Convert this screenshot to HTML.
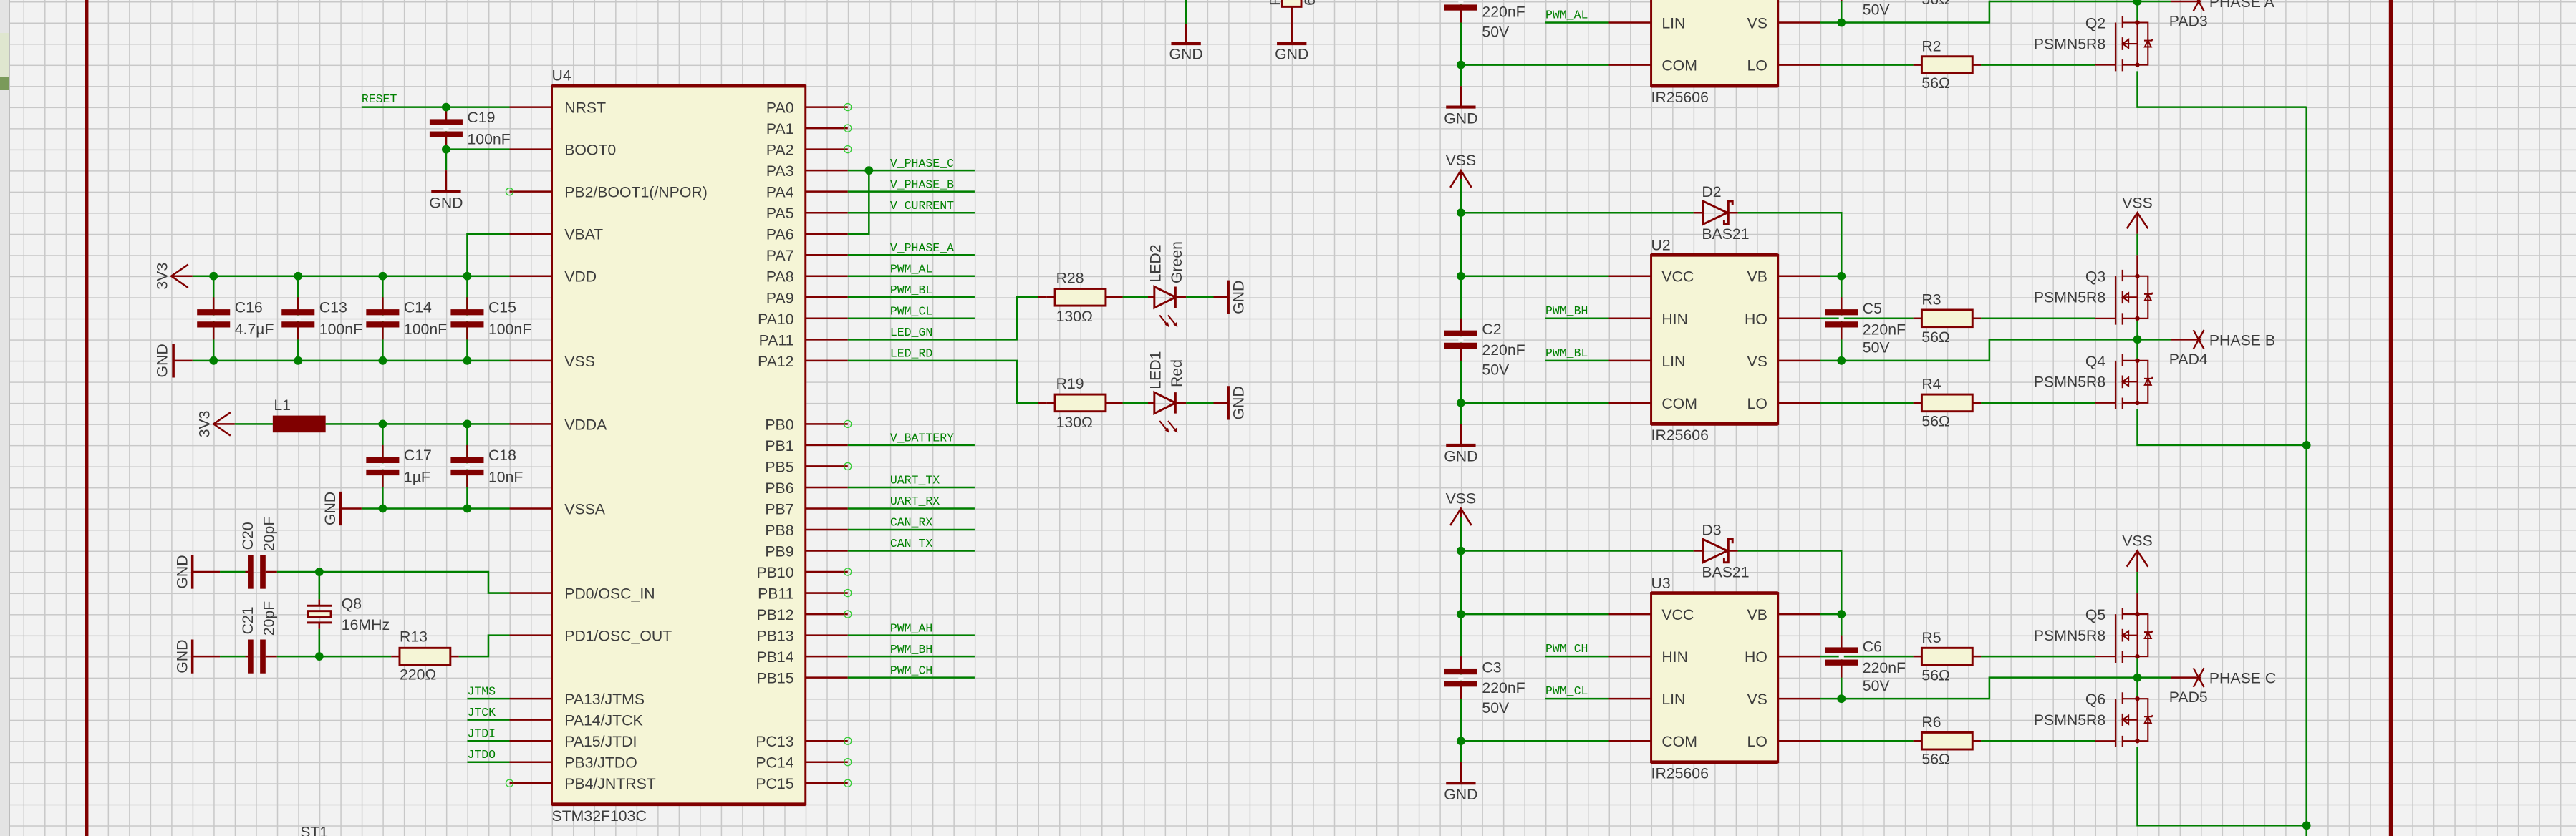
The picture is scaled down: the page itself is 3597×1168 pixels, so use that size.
<!DOCTYPE html>
<html><head><meta charset="utf-8">
<style>
html,body{margin:0;padding:0;background:#f2f2f2;}
svg{display:block}
.w{stroke:#008000;stroke-width:.085;fill:none}
.r{stroke:#800000;stroke-width:.085;fill:none}
.t{font-family:"Liberation Sans",sans-serif;font-size:.72px;fill:#3c3c3c}
.n{font-family:"Liberation Mono",monospace;font-size:.56px;fill:#008000}
.e{text-anchor:end}
.m{text-anchor:middle}
</style></head>
<body>
<svg width="3597" height="1168" viewBox="0 0 3597 1168" xmlns="http://www.w3.org/2000/svg" xmlns:xlink="http://www.w3.org/1999/xlink">
<defs>
<pattern id="gp" x="3" y="2" width="29.52" height="29.52" patternUnits="userSpaceOnUse">
<path d="M0 0H29.52M0 0V29.52" stroke="#c8c8c8" stroke-width="3" fill="none"/>
</pattern>
<g id="cap">
<rect x="-.12" y="-.14" width=".24" height=".28" fill="#f2f2f2"/>
<path class="r" d="M0 -1V-.42M0 .42V1"/>
<rect x="-.78" y="-.43" width="1.56" height=".28" fill="#800000"/>
<rect x="-.78" y=".15" width="1.56" height=".28" fill="#800000"/>
</g>
<g id="res">
<path class="r" d="M-1.6 0H-1.2M1.2 0H1.6"/>
<rect x="-1.2" y="-.4" width="2.4" height=".8" fill="#f5f5d6" stroke="#800000" stroke-width=".1"/>
</g>
<g id="fet" fill="none" stroke="#800000" stroke-width=".07">
<path d="M0 0V2"/>
<path d="M-.7 -.3V.25M-.7 .7V1.3M-.7 1.75V2.3" stroke-width=".08"/>
<path d="M-1.03 0V2.3" stroke-width=".08"/>
<path d="M-2 2H-1.03M-.7 0H.5V2H-.7M-.7 1H0"/>
<path d="M-.7 1L-.42 .8V1.2Z"/>
<path d="M.35 1.15H.65L.5 .85ZM.32 .85H.68L.72 .78"/>
<circle cx="0" cy="0" r=".11" fill="#800000" stroke="none"/>
<circle cx="0" cy="2" r=".11" fill="#800000" stroke="none"/>
</g>
<g id="sec">
<!-- left rail -->
<path class="r" d="M68.5 8.8L69 8L69.5 8.8M69 8V8.4M69 20V21"/>
<path class="w" d="M69 8.4V20"/>
<path d="M68.3 21H69.7" stroke="#800000" stroke-width=".14"/>
<use xlink:href="#cap" x="69" y="16"/>
<circle cx="69" cy="10" r=".2" fill="#008000"/>
<circle cx="69" cy="13" r=".2" fill="#008000"/>
<circle cx="69" cy="19" r=".2" fill="#008000"/>
<!-- diode -->
<path class="w" d="M69 10H80M82.1 10H87V17"/>
<path class="r" d="M80 10H80.45M81.65 10H82.1"/>
<path d="M80.45 9.45V10.55L81.6 10Z" fill="none" stroke="#800000" stroke-width=".1"/>
<path d="M81.85 9.65V9.45H81.65V10.55H81.45V10.35" fill="none" stroke="#800000" stroke-width=".1"/>
<!-- IC -->
<path class="w" d="M69 13H76M73 15H76M73 17H76M69 19H76"/>
<path class="r" d="M76 13H78M76 15H78M76 17H78M76 19H78M84 13H86M84 15H86M84 17H86M84 19H86"/>
<rect x="78" y="12" width="6" height="8" fill="#f5f5d6" stroke="#800000" stroke-width=".1"/>
<path d="M78 12H84" stroke="#800000" stroke-width=".16"/>
<path d="M78 20H84" stroke="#800000" stroke-width=".16"/>
<path class="w" d="M86 13H87M86 15H90.4M93.6 15H99M86 17H94V16H102.6M86 19H90.4M93.6 19H99M101 15V17"/>
<use xlink:href="#cap" x="87" y="15"/>
<circle cx="87" cy="13" r=".2" fill="#008000"/>
<circle cx="87" cy="17" r=".2" fill="#008000"/>
<use xlink:href="#res" x="92" y="15"/>
<use xlink:href="#res" x="92" y="19"/>
<!-- VSS for high fet -->
<path class="r" d="M100.5 10.75L101 10L101.5 10.75M101 10V11M101 12V13"/>
<path class="w" d="M101 11V12"/>
<use xlink:href="#fet" x="101" y="13"/>
<use xlink:href="#fet" x="101" y="17"/>
<circle cx="101" cy="16" r=".2" fill="#008000"/>
<path class="r" d="M102.6 16H104"/>
<path d="M103.65 15.55L104.15 16.45M104.15 15.55L103.65 16.45" stroke="#800000" stroke-width=".08"/>
</g>
</defs>
<rect width="3597" height="1168" fill="#f2f2f2"/>
<rect width="3597" height="1168" fill="url(#gp)"/>
<rect x="0" y="0" width="12" height="1168" fill="#e4e4e4"/>
<rect x="0" y="46" width="12" height="80" fill="#dfe6cf"/>
<rect x="0" y="108" width="12" height="18" fill="#7a9a5a"/>
<line x1="13" y1="0" x2="13" y2="1168" stroke="#bdbdbd" stroke-width="2"/>

<g transform="translate(3,2) scale(29.52)">
<!-- frame -->
<path d="M4 -1V41" stroke="#800000" stroke-width=".16"/>
<path d="M113 -1V41" stroke="#800000" stroke-width=".2"/>

<!-- U4 -->
<path class="r" d="M24 5H26M24 7H26M24 9H26M24 11H26M24 13H26M24 17H26M24 20H26M24 24H26M24 28H26M24 30H26M24 33H26M24 34H26M24 35H26M24 36H26M24 37H26"/>
<path class="r" d="M38 5H40M38 6H40M38 7H40M38 8H40M38 9H40M38 10H40M38 11H40M38 12H40M38 13H40M38 14H40M38 15H40M38 16H40M38 17H40M38 20H40M38 21H40M38 22H40M38 23H40M38 24H40M38 25H40M38 26H40M38 27H40M38 28H40M38 29H40M38 30H40M38 31H40M38 32H40M38 35H40M38 36H40M38 37H40"/>
<rect x="26" y="4" width="12" height="34" fill="#f5f5d6" stroke="#800000" stroke-width=".1"/>
<path d="M26 4H38" stroke="#800000" stroke-width=".16"/>
<path d="M26 38H38" stroke="#800000" stroke-width=".16"/>
<text class="t" x="26" y="3.75">U4</text>
<text class="t" x="26" y="38.78">STM32F103C</text>
<g class="t">
<text x="26.6" y="5.27">NRST</text><text x="26.6" y="7.27">BOOT0</text><text x="26.6" y="9.27">PB2/BOOT1(/NPOR)</text>
<text x="26.6" y="11.27">VBAT</text><text x="26.6" y="13.27">VDD</text><text x="26.6" y="17.27">VSS</text>
<text x="26.6" y="20.27">VDDA</text><text x="26.6" y="24.27">VSSA</text><text x="26.6" y="28.27">PD0/OSC_IN</text>
<text x="26.6" y="30.27">PD1/OSC_OUT</text><text x="26.6" y="33.27">PA13/JTMS</text><text x="26.6" y="34.27">PA14/JTCK</text>
<text x="26.6" y="35.27">PA15/JTDI</text><text x="26.6" y="36.27">PB3/JTDO</text><text x="26.6" y="37.27">PB4/JNTRST</text>
</g>
<g class="t e">
<text x="37.45" y="5.27">PA0</text><text x="37.45" y="6.27">PA1</text><text x="37.45" y="7.27">PA2</text><text x="37.45" y="8.27">PA3</text>
<text x="37.45" y="9.27">PA4</text><text x="37.45" y="10.27">PA5</text><text x="37.45" y="11.27">PA6</text><text x="37.45" y="12.27">PA7</text>
<text x="37.45" y="13.27">PA8</text><text x="37.45" y="14.27">PA9</text><text x="37.45" y="15.27">PA10</text><text x="37.45" y="16.27">PA11</text>
<text x="37.45" y="17.27">PA12</text><text x="37.45" y="20.27">PB0</text><text x="37.45" y="21.27">PB1</text><text x="37.45" y="22.27">PB5</text>
<text x="37.45" y="23.27">PB6</text><text x="37.45" y="24.27">PB7</text><text x="37.45" y="25.27">PB8</text><text x="37.45" y="26.27">PB9</text>
<text x="37.45" y="27.27">PB10</text><text x="37.45" y="28.27">PB11</text><text x="37.45" y="29.27">PB12</text><text x="37.45" y="30.27">PB13</text>
<text x="37.45" y="31.27">PB14</text><text x="37.45" y="32.27">PB15</text><text x="37.45" y="35.27">PC13</text><text x="37.45" y="36.27">PC14</text>
<text x="37.45" y="37.27">PC15</text>
</g>
<g fill="none" stroke="#33cc33" stroke-width=".045">
<circle cx="24" cy="9" r=".17"/><circle cx="24" cy="37" r=".17"/>
<circle cx="40" cy="5" r=".17"/><circle cx="40" cy="6" r=".17"/><circle cx="40" cy="7" r=".17"/>
<circle cx="40" cy="20" r=".17"/><circle cx="40" cy="22" r=".17"/><circle cx="40" cy="27" r=".17"/>
<circle cx="40" cy="28" r=".17"/><circle cx="40" cy="29" r=".17"/><circle cx="40" cy="35" r=".17"/>
<circle cx="40" cy="36" r=".17"/><circle cx="40" cy="37" r=".17"/>
</g>

<!-- left side wiring -->
<path class="w" d="M17 5H24M21 5V8M21 7H24M24 11H22V13M9 13H24M10 13V17M14 13V17M18 13V17M22 13V17M9 17H24M11 20H12.8M15.3 20H24M18 20V24M22 20V24M17 24H24M10.3 27H11.5M13 27H23V28H24M15 27V28.3M15 29.7V31M10.3 31H11.5M13 31H18.4M21.6 31H22.5M22.5 31H23V30H24M22 33H24M22 34H24M22 35H24M22 36H24"/>
<path class="r" d="M21 8V9M8 13H9M8.1 17H9M10 20H11M16 24H17M9 27H10.3M11.5 27H11.62M12.46 27H13M9 31H10.3M11.5 31H11.62M12.46 31H13M15 28.3V28.6M15 29.4V29.7"/>
<use xlink:href="#cap" x="21" y="6"/>
<use xlink:href="#cap" x="10" y="15"/><use xlink:href="#cap" x="14" y="15"/><use xlink:href="#cap" x="18" y="15"/><use xlink:href="#cap" x="22" y="15"/>
<use xlink:href="#cap" x="18" y="22"/><use xlink:href="#cap" x="22" y="22"/>
<path d="M20.3 9H21.7" stroke="#800000" stroke-width=".14"/>
<path class="r" d="M8.8 12.45L8 13L8.8 13.55M10.8 19.45L10 20L10.8 20.55"/>
<path d="M8.1 16.2V17.8M16 23.2V24.8M9 26.2V27.8M9 30.2V31.8" stroke="#800000" stroke-width=".12"/>
<rect x="12.8" y="19.6" width="2.5" height=".8" fill="#800000"/>
<rect x="11.62" y="26.2" width=".26" height="1.6" fill="#800000"/><rect x="12.2" y="26.2" width=".26" height="1.6" fill="#800000"/>
<rect x="11.62" y="30.2" width=".26" height="1.6" fill="#800000"/><rect x="12.2" y="30.2" width=".26" height="1.6" fill="#800000"/>
<path d="M14.4 28.6H15.6M14.4 29.4H15.6" stroke="#800000" stroke-width=".1"/>
<rect x="14.45" y="28.85" width="1.1" height=".3" fill="#f5f5d6" stroke="#800000" stroke-width=".1"/>
<use xlink:href="#res" x="20" y="31"/>
<g fill="#008000">
<circle cx="21" cy="5" r=".2"/><circle cx="21" cy="7" r=".2"/>
<circle cx="10" cy="13" r=".2"/><circle cx="14" cy="13" r=".2"/><circle cx="18" cy="13" r=".2"/><circle cx="22" cy="13" r=".2"/>
<circle cx="10" cy="17" r=".2"/><circle cx="14" cy="17" r=".2"/><circle cx="18" cy="17" r=".2"/><circle cx="22" cy="17" r=".2"/>
<circle cx="18" cy="20" r=".2"/><circle cx="22" cy="20" r=".2"/><circle cx="18" cy="24" r=".2"/><circle cx="22" cy="24" r=".2"/>
<circle cx="15" cy="27" r=".2"/><circle cx="15" cy="31" r=".2"/>
</g>
<g class="t">
<text x="22" y="5.72">C19</text><text x="22" y="6.75">100nF</text>
<text class="m" x="21" y="9.78">GND</text>
<text x="11" y="14.72">C16</text><text x="11" y="15.75">4.7µF</text>
<text x="15" y="14.72">C13</text><text x="15" y="15.75">100nF</text>
<text x="19" y="14.72">C14</text><text x="19" y="15.75">100nF</text>
<text x="23" y="14.72">C15</text><text x="23" y="15.75">100nF</text>
<text x="12.85" y="19.35">L1</text>
<text x="19" y="21.72">C17</text><text x="19" y="22.75">1µF</text>
<text x="23" y="21.72">C18</text><text x="23" y="22.75">10nF</text>
<text x="16.05" y="28.75">Q8</text><text x="16.05" y="29.75">16MHz</text>
<text x="18.8" y="30.3">R13</text><text x="18.8" y="32.1">220Ω</text>
<text x="14.1" y="39.55">ST1</text>
<text class="m" transform="translate(7.8,13) rotate(-90)">3V3</text>
<text class="m" transform="translate(7.8,17) rotate(-90)">GND</text>
<text class="m" transform="translate(9.8,20) rotate(-90)">3V3</text>
<text class="m" transform="translate(15.75,24) rotate(-90)">GND</text>
<text class="m" transform="translate(8.75,27) rotate(-90)">GND</text>
<text class="m" transform="translate(8.75,31) rotate(-90)">GND</text>
<text class="m" transform="translate(11.86,25.3) rotate(-90)">C20</text>
<text class="m" transform="translate(12.86,25.2) rotate(-90)">20pF</text>
<text class="m" transform="translate(11.86,29.3) rotate(-90)">C21</text>
<text class="m" transform="translate(12.86,29.2) rotate(-90)">20pF</text>
</g>
<g class="n">
<text x="17" y="4.78">RESET</text>
<text x="22" y="32.8">JTMS</text><text x="22" y="33.8">JTCK</text><text x="22" y="34.8">JTDI</text><text x="22" y="35.8">JTDO</text>
</g>

<!-- right side of U4 -->
<path class="w" d="M40 8H46M41 8V11H40M40 9H46M40 10H46M40 12H46M40 13H46M40 14H46M40 15H46M40 16H48V14H49M53 14H54.2M56 14H57.3M40 17H48V19H49M53 19H54.2M56 19H57.3M40 21H46M40 23H46M40 24H46M40 25H46M40 26H46M40 30H46M40 31H46M40 32H46"/>
<circle cx="41" cy="8" r=".2" fill="#008000"/>
<path class="r" d="M49 14H49.4M52.6 14H53M54.2 14H54.5M55.5 14H56M57.3 14H58M49 19H49.4M52.6 19H53M54.2 19H54.5M55.5 19H56M57.3 19H58"/>
<use xlink:href="#res" x="51" y="14"/><use xlink:href="#res" x="51" y="19"/>
<g fill="none" stroke="#800000" stroke-width=".1">
<path d="M54.5 13.5V14.5L55.5 14ZM55.5 13.5V14.5"/>
<path d="M54.5 18.5V19.5L55.5 19ZM55.5 18.5V19.5"/>
<path d="M54.75 14.85L55.15 15.35M55.15 14.85L55.55 15.35M54.75 19.85L55.15 20.35M55.15 19.85L55.55 20.35" stroke-width=".07"/>
</g>
<g fill="#800000">
<path d="M55.2 15.42L55.0 15.3L55.15 15.18Z"/><path d="M55.6 15.42L55.4 15.3L55.55 15.18Z"/>
<path d="M55.2 20.42L55.0 20.3L55.15 20.18Z"/><path d="M55.6 20.42L55.4 20.3L55.55 20.18Z"/>
</g>
<path d="M58 13.2V14.8M58 18.2V19.8" stroke="#800000" stroke-width=".12"/>
<g class="n">
<text x="42" y="7.82">V_PHASE_C</text><text x="42" y="8.82">V_PHASE_B</text><text x="42" y="9.82">V_CURRENT</text>
<text x="42" y="11.82">V_PHASE_A</text><text x="42" y="12.82">PWM_AL</text><text x="42" y="13.82">PWM_BL</text>
<text x="42" y="14.82">PWM_CL</text><text x="42" y="15.82">LED_GN</text><text x="42" y="16.82">LED_RD</text>
<text x="42" y="20.82">V_BATTERY</text><text x="42" y="22.82">UART_TX</text><text x="42" y="23.82">UART_RX</text>
<text x="42" y="24.82">CAN_RX</text><text x="42" y="25.82">CAN_TX</text><text x="42" y="29.82">PWM_AH</text>
<text x="42" y="30.82">PWM_BH</text><text x="42" y="31.82">PWM_CH</text>
</g>
<g class="t">
<text x="49.85" y="13.33">R28</text><text x="49.85" y="15.15">130Ω</text>
<text x="49.85" y="18.33">R19</text><text x="49.85" y="20.15">130Ω</text>
<text class="m" transform="translate(54.8,12.4) rotate(-90)">LED2</text>
<text class="m" transform="translate(55.8,12.35) rotate(-90)">Green</text>
<text class="m" transform="translate(54.8,17.45) rotate(-90)">LED1</text>
<text class="m" transform="translate(55.8,17.6) rotate(-90)">Red</text>
<text class="m" transform="translate(58.72,14) rotate(-90)">GND</text>
<text class="m" transform="translate(58.72,19) rotate(-90)">GND</text>
</g>

<!-- top middle GNDs -->
<path class="w" d="M56 -1V1.05"/>
<path class="r" d="M56 1.05V2M61 .25V2"/>
<path d="M55.3 2H56.7M60.3 2H61.7" stroke="#800000" stroke-width=".14"/>
<rect x="60.55" y="-1" width=".9" height="1.25" fill="#f5f5d6" stroke="#800000" stroke-width=".1"/>
<g class="t">
<text class="m" x="56" y="2.73">GND</text><text class="m" x="61" y="2.73">GND</text>
<text transform="translate(60.45,0.2) rotate(-90)">R</text>
<text transform="translate(62.1,0.2) rotate(-90)">6</text>
</g>

<!-- driver sections -->
<use xlink:href="#sec" y="-16"/>
<use xlink:href="#sec"/>
<use xlink:href="#sec" y="16"/>
<path class="w" d="M101 3.3V5H109M101 19.3V21H109M101 35.3V39H109M109 5V41"/>
<circle cx="109" cy="21" r=".2" fill="#008000"/>
<circle cx="109" cy="39" r=".2" fill="#008000"/>

<g transform="translate(0,-16)" class="t">
<text x="70" y="16.73">220nF</text><text x="70" y="17.67">50V</text>
<text class="m" x="69" y="21.77">GND</text>
<text x="78.5" y="17.27">LIN</text><text x="78.5" y="19.27">COM</text>
<text class="e" x="83.5" y="17.27">VS</text><text class="e" x="83.5" y="19.27">LO</text>
<text x="78" y="20.77">IR25606</text>
<text x="88" y="16.62">50V</text>
<text x="90.8" y="16.13">56Ω</text>
<text x="90.8" y="18.35">R2</text><text x="90.8" y="20.1">56Ω</text>
<text class="e" x="99.5" y="17.27">Q2</text><text class="e" x="99.5" y="18.25">PSMN5R8</text>
<text x="104.4" y="16.27">PHASE A</text><text x="102.5" y="17.17">PAD3</text>
<text class="n" x="73" y="16.8">PWM_AL</text>
</g>
<g class="t">
<text x="78" y="11.78">U2</text><text x="78" y="20.77">IR25606</text>
<text x="80.4" y="9.25">D2</text><text x="80.4" y="11.25">BAS21</text>
<text class="m" x="69" y="7.76">VSS</text><text class="m" x="69" y="21.77">GND</text>
<text x="70" y="15.75">C2</text><text x="70" y="16.73">220nF</text><text x="70" y="17.67">50V</text>
<text x="78.5" y="13.27">VCC</text><text x="78.5" y="15.27">HIN</text><text x="78.5" y="17.27">LIN</text><text x="78.5" y="19.27">COM</text>
<text class="e" x="83.5" y="13.27">VB</text><text class="e" x="83.5" y="15.27">HO</text><text class="e" x="83.5" y="17.27">VS</text><text class="e" x="83.5" y="19.27">LO</text>
<text x="88" y="14.77">C5</text><text x="88" y="15.77">220nF</text><text x="88" y="16.62">50V</text>
<text x="90.8" y="14.35">R3</text><text x="90.8" y="16.13">56Ω</text>
<text x="90.8" y="18.35">R4</text><text x="90.8" y="20.1">56Ω</text>
<text class="m" x="101" y="9.77">VSS</text>
<text class="e" x="99.5" y="13.27">Q3</text><text class="e" x="99.5" y="14.25">PSMN5R8</text>
<text class="e" x="99.5" y="17.27">Q4</text><text class="e" x="99.5" y="18.25">PSMN5R8</text>
<text x="104.4" y="16.27">PHASE B</text><text x="102.5" y="17.17">PAD4</text>
<text class="n" x="73" y="14.8">PWM_BH</text><text class="n" x="73" y="16.8">PWM_BL</text>
</g>
<g transform="translate(0,16)" class="t">
<text x="78" y="11.78">U3</text><text x="78" y="20.77">IR25606</text>
<text x="80.4" y="9.25">D3</text><text x="80.4" y="11.25">BAS21</text>
<text class="m" x="69" y="7.76">VSS</text><text class="m" x="69" y="21.77">GND</text>
<text x="70" y="15.75">C3</text><text x="70" y="16.73">220nF</text><text x="70" y="17.67">50V</text>
<text x="78.5" y="13.27">VCC</text><text x="78.5" y="15.27">HIN</text><text x="78.5" y="17.27">LIN</text><text x="78.5" y="19.27">COM</text>
<text class="e" x="83.5" y="13.27">VB</text><text class="e" x="83.5" y="15.27">HO</text><text class="e" x="83.5" y="17.27">VS</text><text class="e" x="83.5" y="19.27">LO</text>
<text x="88" y="14.77">C6</text><text x="88" y="15.77">220nF</text><text x="88" y="16.62">50V</text>
<text x="90.8" y="14.35">R5</text><text x="90.8" y="16.13">56Ω</text>
<text x="90.8" y="18.35">R6</text><text x="90.8" y="20.1">56Ω</text>
<text class="m" x="101" y="9.77">VSS</text>
<text class="e" x="99.5" y="13.27">Q5</text><text class="e" x="99.5" y="14.25">PSMN5R8</text>
<text class="e" x="99.5" y="17.27">Q6</text><text class="e" x="99.5" y="18.25">PSMN5R8</text>
<text x="104.4" y="16.27">PHASE C</text><text x="102.5" y="17.17">PAD5</text>
<text class="n" x="73" y="14.8">PWM_CH</text><text class="n" x="73" y="16.8">PWM_CL</text>
</g>
</g>
</svg>
</body></html>
